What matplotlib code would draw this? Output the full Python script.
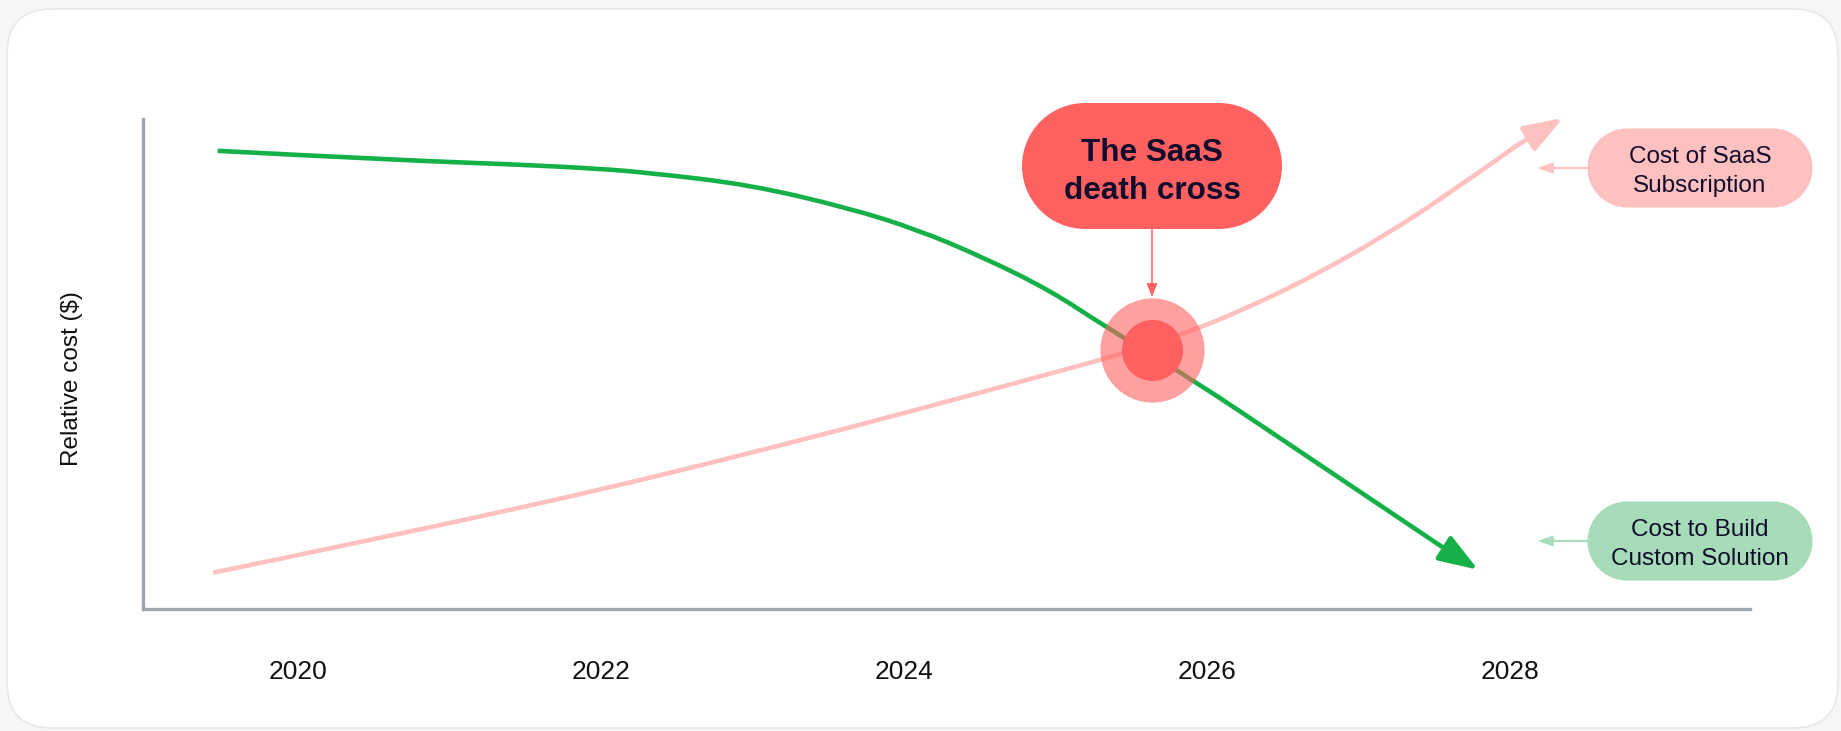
import matplotlib
matplotlib.use("Agg")
import numpy as np
import matplotlib.pyplot as plt
from matplotlib.patches import FancyBboxPatch, FancyArrowPatch, PathPatch
from matplotlib.path import Path
from matplotlib.transforms import IdentityTransform

plt.rcParams["font.family"] = ["Liberation Sans", "DejaVu Sans"]

# values (year, relative cost 0-100)
BUILD_YEARS = [2019.47, 2020.67, 2021.38, 2021.97, 2022.32, 2022.98, 2023.64, 2024.09,
               2024.52, 2024.96, 2025.33, 2025.91, 2026.50, 2027.16, 2027.56, 2027.79]
BUILD_COST = [93.5, 91.6, 90.8, 89.9, 89.0, 86.6, 81.8, 77.4,
              71.8, 65.1, 57.6, 46.7, 34.5, 20.8, 12.5, 8.0]
SAAS_YEARS = [2019.44, 2020.23, 2021.12, 2021.99, 2022.75, 2023.64, 2024.52, 2024.96,
              2025.41, 2025.84, 2026.28, 2026.73, 2027.16, 2027.60, 2028.05, 2028.35]
SAAS_COST = [7.4, 12.5, 18.3, 24.3, 30.0, 37.0, 44.3, 48.0,
             51.8, 56.0, 61.6, 68.4, 76.0, 84.8, 94.7, 100.2]
CROSS_YEAR = 2025.64
CROSS_COST = 52.9
TICK_YEARS = [2020, 2022, 2024, 2026, 2028]

GREEN = "#16b048"
PINK = "#ffc0c0"
RED = "#ff6161"
GREEN_PILL = "#a6dcb8"
INK = "#120c2d"

W, H = 1841, 731


def smooth_path(xs, ys):
    # quadratic bezier through the midpoints, read points act as control points
    pts = list(zip(xs, ys))
    verts = [pts[0]]
    codes = [Path.MOVETO]
    for i in range(1, len(pts) - 2):
        mid = ((pts[i][0] + pts[i + 1][0]) / 2, (pts[i][1] + pts[i + 1][1]) / 2)
        verts += [pts[i], mid]
        codes += [Path.CURVE3, Path.CURVE3]
    verts += [pts[-2], pts[-1]]
    codes += [Path.CURVE3, Path.CURVE3]
    return Path(verts, codes)


def draw_curve(ax, xs, ys, color, z):
    # smooth line up to the second last point, then an arrow on the last segment
    ax.add_patch(PathPatch(smooth_path(xs[:-1], ys[:-1]), fill=False, ec=color, lw=3.3,
                           capstyle="butt", zorder=z))
    ax.annotate("", xy=(xs[-1], ys[-1]), xytext=(xs[-2], ys[-2]),
                arrowprops=dict(arrowstyle="-|>,head_length=24,head_width=8.5", mutation_scale=1,
                                color=color, lw=3.3, shrinkA=0, shrinkB=0),
                annotation_clip=False, zorder=z)


def px_pill(fig, cx, cy, w, h, color, text, dy=0, **text_kw):
    # pill shaped box in pixel coordinates (cy measured from the top)
    r = h / 2
    yc = H - cy
    left = Path.arc(90, 270)
    right = Path.arc(270, 450)
    verts = np.concatenate([left.vertices * r + [cx - w / 2 + r, yc],
                            right.vertices * r + [cx + w / 2 - r, yc],
                            [[cx - w / 2 + r, yc + r]]])
    codes = np.concatenate([left.codes, [Path.LINETO], right.codes[1:], [Path.CLOSEPOLY]])
    fig.add_artist(PathPatch(Path(verts, codes), transform=IdentityTransform(),
                             fc=color, ec="none", zorder=5))
    fig.text(cx / W, 1 - (cy + dy) / H, text, ha="center", va="center", color=INK,
             zorder=6, **text_kw)


def px_arrow(fig, x0, y0, x1, y1, color, lw, hl, hw):
    fig.add_artist(FancyArrowPatch((x0, H - y0), (x1, H - y1), transform=IdentityTransform(),
                                   arrowstyle=f"-|>,head_length={hl},head_width={hw}",
                                   mutation_scale=1, color=color, lw=lw,
                                   shrinkA=0, shrinkB=0, zorder=6))


def main():
    fig = plt.figure(figsize=(W / 100, H / 100), dpi=100, facecolor="#f6f6f7")

    # white card behind everything
    fig.add_artist(FancyBboxPatch((7, 3), 1831, 719, boxstyle="round,pad=0,rounding_size=45",
                                  transform=IdentityTransform(), fc="white", ec="#e8e8eb",
                                  lw=1.2, zorder=-1))

    ax = fig.add_axes([143 / W, (H - 609) / H, (1750 - 143) / W, (609 - 119) / H])
    ax.patch.set_visible(False)
    ax.set_xlim(2018.977, 2029.584)
    ax.set_ylim(0, 100)

    draw_curve(ax, SAAS_YEARS, SAAS_COST, PINK, 2)
    draw_curve(ax, BUILD_YEARS, BUILD_COST, GREEN, 3)

    # the crossing marker
    ax.scatter([CROSS_YEAR], [CROSS_COST], s=75 ** 2, color=RED, alpha=0.6, lw=0, zorder=4)
    ax.scatter([CROSS_YEAR], [CROSS_COST], s=44 ** 2, color=RED, lw=0, zorder=5)

    # axes styling
    for side in ["top", "right"]:
        ax.spines[side].set_visible(False)
    for side in ["left", "bottom"]:
        ax.spines[side].set_color("#a0a6b1")
        ax.spines[side].set_linewidth(2.4)
    ax.set_xticks(TICK_YEARS)
    ax.set_xticklabels([str(y) for y in TICK_YEARS])
    ax.set_yticks([])
    ax.tick_params(axis="x", length=0, pad=36.5, labelsize=19, labelcolor="#111111")
    ax.set_ylabel("Relative cost ($)", fontsize=17.5, color="#111111", va="center")
    ax.yaxis.set_label_coords((72 - 143) / (1750 - 143), (609 - 379) / (609 - 119))

    # annotation boxes
    px_pill(fig, 1152, 166, 260, 126, RED, "The SaaS\ndeath cross", dy=6,
            fontsize=22.7, fontweight="bold", linespacing=1.31)
    px_arrow(fig, 1152, 229, 1152, 297, RED, 1.1, 8, 3.2)

    px_pill(fig, 1700, 168, 225, 79, PINK, "Cost of SaaS\nSubscription", dy=3.5,
            fontsize=17.5, linespacing=1.43)
    px_arrow(fig, 1588, 168, 1537, 168, PINK, 1.5, 9, 3)

    px_pill(fig, 1700, 541, 225, 79, GREEN_PILL, "Cost to Build\nCustom Solution", dy=3.5,
            fontsize=17.5, linespacing=1.43)
    px_arrow(fig, 1588, 541, 1537, 541, GREEN_PILL, 1.5, 9, 3)

    fig.savefig("out.png", dpi=100, facecolor=fig.get_facecolor())


if __name__ == "__main__":
    main()
